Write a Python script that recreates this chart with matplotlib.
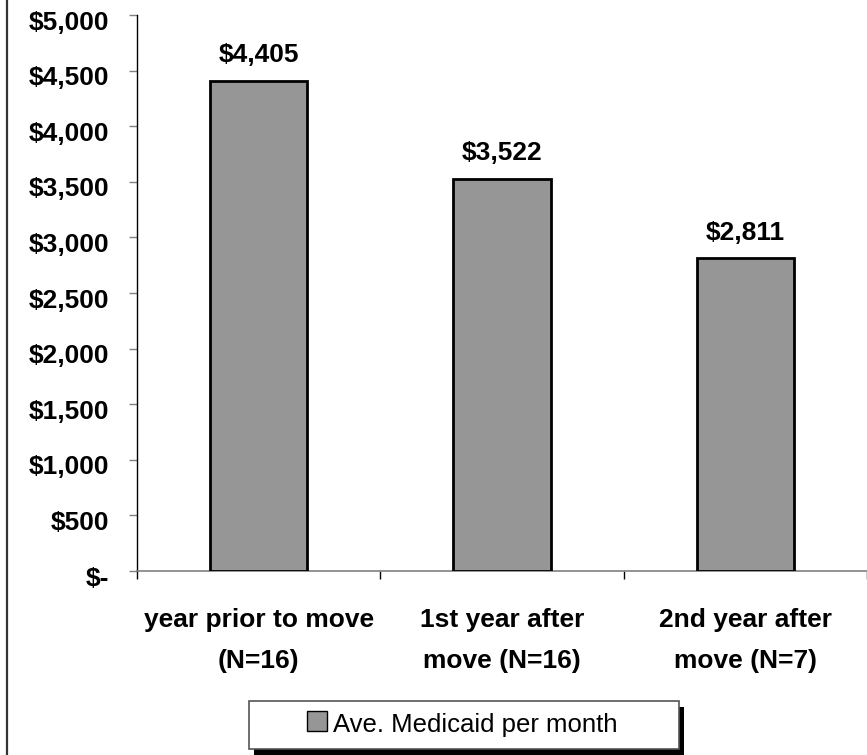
import matplotlib
matplotlib.use("Agg")
import matplotlib.pyplot as plt
from matplotlib.patches import Rectangle
from matplotlib.lines import Line2D
from matplotlib.transforms import ScaledTranslation
import numpy as np

# Daten
categories = ["year prior to move\n(N=16)", "1st year after\nmove (N=16)", "2nd year after\nmove (N=7)"]
values = [4405, 3522, 2811]
series_name = "Ave. Medicaid per month"
yticks = [0, 500, 1000, 1500, 2000, 2500, 3000, 3500, 4000, 4500, 5000]
ytick_labels = ["$-", "$500", "$1,000", "$1,500", "$2,000", "$2,500", "$3,000",
                "$3,500", "$4,000", "$4,500", "$5,000"]

plt.rcParams["font.family"] = ["Liberation Sans", "DejaVu Sans"]
bar_color = "#969696"

fig = plt.figure(figsize=(8.67, 7.55), dpi=100)
ax = fig.add_axes([137 / 867, 1 - 571 / 755, 1 - 137 / 867, (571 - 15) / 755])

x = np.arange(len(values))
bars = ax.bar(x, values, width=0.4, color=bar_color, edgecolor="black", linewidth=2.0, zorder=3)

ax.set_xlim(-0.5, len(values) - 0.5)
ax.set_ylim(0, 5000)

# Achsen
for side in ["top", "right"]:
    ax.spines[side].set_visible(False)
ax.spines["left"].set_color("black")
ax.spines["left"].set_linewidth(1.0)
ax.spines["bottom"].set_color("#808080")
ax.spines["bottom"].set_linewidth(1.2)

ax.set_yticks(yticks)
ax.set_yticklabels(ytick_labels, fontsize=19, fontweight="bold")
ax.tick_params(axis="y", direction="out", length=6, width=1, colors="#808080",
               labelcolor="black", pad=14)
# Beschriftungen etwas unterhalb der Ticks, wie im Original
shift = ScaledTranslation(0, -5 / 100, fig.dpi_scale_trans)
for lbl in ax.get_yticklabels():
    lbl.set_transform(lbl.get_transform() + shift)

ax.set_xticks(x)
ax.set_xticklabels(categories, fontsize=19, fontweight="bold", linespacing=1.85)
ax.tick_params(axis="x", which="major", length=0, pad=27)
ax.set_xticks(np.arange(-0.5, len(values)), minor=True)
ax.tick_params(axis="x", which="minor", direction="out", length=6, width=1, color="black")

# Werte über den Balken
for b, v in zip(bars, values):
    ax.annotate(f"${v:,}", (b.get_x() + b.get_width() / 2, v), xytext=(0, 10),
                textcoords="offset points", ha="center", va="bottom",
                fontsize=19, fontweight="bold")

# linker Rahmen
fig.add_artist(Line2D([7 / 867, 7 / 867], [0, 1], color="#333333", linewidth=1.6))

# Legende (mit schwarzem Schatten)
W, H = 867, 755
lx0, lx1, ly0, ly1 = 249, 679, 701, 749
fig.add_artist(Rectangle(((lx0 + 5) / W, 1 - (ly1 + 6) / H), (lx1 - lx0) / W, (ly1 - ly0) / H,
                         facecolor="black", edgecolor="none", zorder=5))
fig.add_artist(Rectangle((lx0 / W, 1 - ly1 / H), (lx1 - lx0) / W, (ly1 - ly0) / H,
                         facecolor="white", edgecolor="#555555", linewidth=1.2, zorder=6))
fig.add_artist(Rectangle((307 / W, 1 - 731 / H), 20 / W, 20 / H,
                         facecolor=bar_color, edgecolor="black", linewidth=1.0, zorder=7))
fig.text(333 / W, 1 - 725 / H, series_name, fontsize=18.5, va="center", ha="left", zorder=7)

fig.savefig("out.png", dpi=100)
